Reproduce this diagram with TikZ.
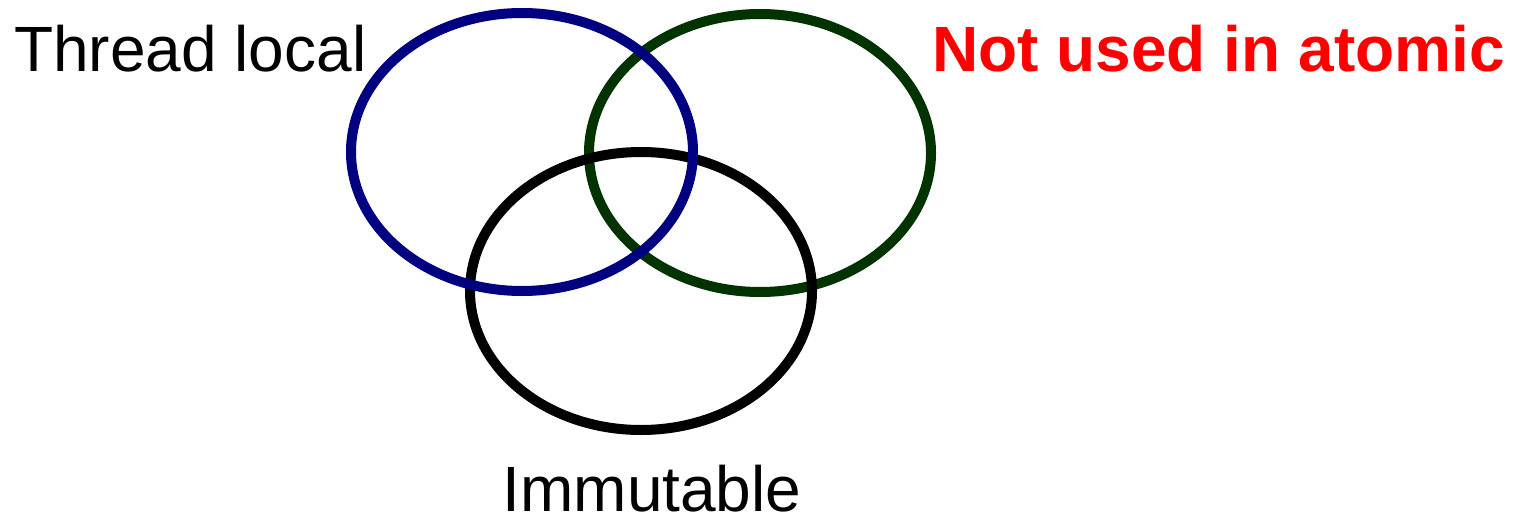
\documentclass[tikz,border=0pt]{standalone}
\usepackage{fontspec}
\setmainfont{Liberation Sans}
\usepackage{tikz}
\usetikzlibrary{positioning}

\definecolor{ringblue}{RGB}{0,0,128}
\definecolor{ringgreen}{RGB}{0,51,0}
\definecolor{labred}{RGB}{255,0,0}

\begin{document}
\begin{tikzpicture}[
          x=1pt, y=-1pt,
          ring/.style={draw, line width=10pt},
          lab/.style={inner sep=0pt, text depth=0pt, font=\fontsize{64}{76}\selectfont},
        ]

        % page frame
        \useasboundingbox (0,0) rectangle (1517,519);

        % --- centres of the three sets ---
        \coordinate (Tc) at (522,152);
        \coordinate (Nc) at (760,153);
        \coordinate (Ic) at (641,291);

        % --- the rings ---
        \draw[ring, ringgreen] (Nc) ellipse [x radius=171, y radius=139];
        \draw[ring, black]     (Ic) ellipse [x radius=171, y radius=139];
        \draw[ring, ringblue]  (Tc) ellipse [x radius=171, y radius=139];

        % --- labels ---
        \node[lab, anchor=base west] (tlab) at (14,71) {Thread local};
        \node[lab, anchor=base east, text=labred, font=\fontsize{64}{76}\selectfont\bfseries]
          (nlab) at (1505,71) {Not used in atomic};
        \node[lab, anchor=base] (ilab) at (652,511) {Immutable};

\end{tikzpicture}
\end{document}
